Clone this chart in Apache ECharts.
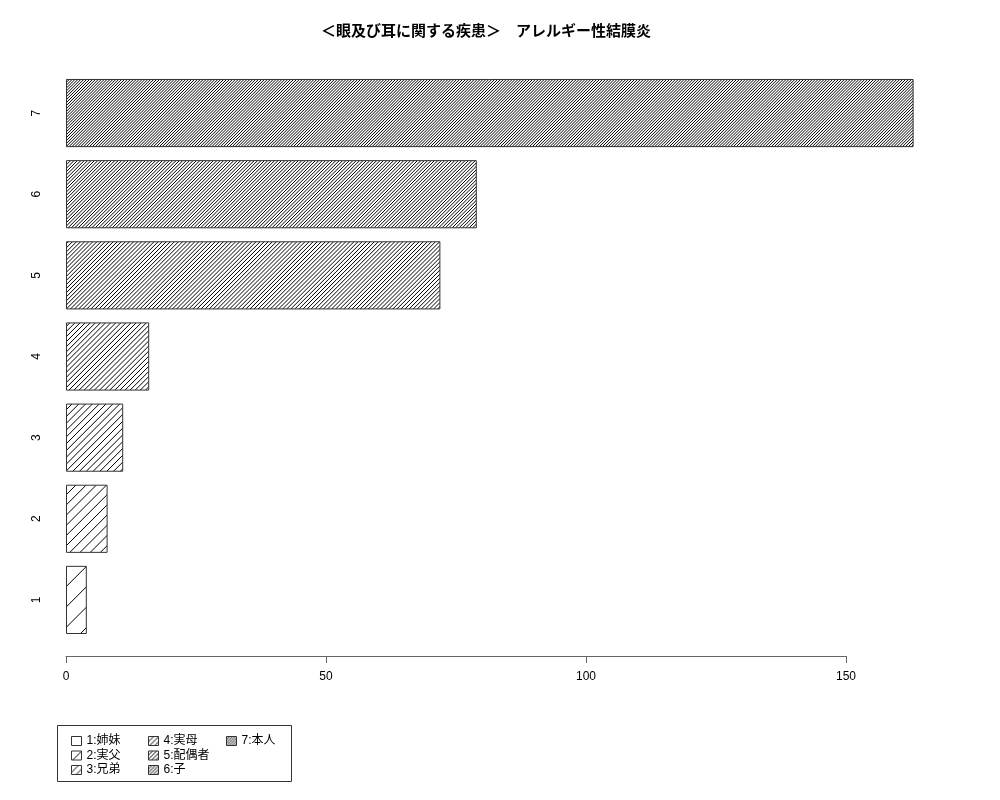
<!DOCTYPE html>
<html><head><meta charset="utf-8">
<script src="https://cdn.jsdelivr.net/npm/echarts@6/dist/echarts.min.js"></script>
<style>html,body{margin:0;padding:0;background:#fff}#c{width:1000px;height:800px}</style>
</head><body><div id="c"></div>
<script>
const categories = ['1','2','3','4','5','6','7'];
const legendNames = ['1:姉妹','2:実父','3:兄弟','4:実母','5:配偶者','6:子','7:本人'];
const values = [4, 8, 11, 16, 72, 79, 163];
const xTicks = [0, 50, 100, 150];
const titleText = '＜眼及び耳に関する疾患＞　アレルギー性結膜炎';

const FONT = "'Liberation Sans', 'Noto Sans CJK JP', sans-serif";

function hatch(k) {
  const T = 102;
  const cv = document.createElement('canvas');
  cv.width = T; cv.height = T;
  const g = cv.getContext('2d');
  g.fillStyle = '#fff'; g.fillRect(0, 0, T, T);
  g.strokeStyle = '#000'; g.lineWidth = 1;
  const p = T / k;
  g.beginPath();
  for (let j = -1; j <= 2 * k + 1; j++) {
    const c = j * p;
    g.moveTo(-5, c + 5);
    g.lineTo(T + 5, c - T - 5);
  }
  g.stroke();
  return { image: cv, repeat: 'repeat' };
}

const series = categories.map((cat, i) => ({
  name: legendNames[i],
  type: 'bar',
  stack: 'all',
  xAxisIndex: 0, yAxisIndex: 0,
  barCategoryGap: '16%',
  itemStyle: { color: hatch(5 * (i + 1)), borderColor: '#333', borderWidth: 1 },
  emphasis: { disabled: true },
  data: categories.map((c, j) => j === i ? values[i] : '-')
}));

function legendCol(names, left) {
  return {
    data: names, left: left, top: 735, orient: 'vertical',
    itemWidth: 10, itemHeight: 9, itemGap: 2.5, icon: 'rect',
    selectedMode: false,
    itemStyle: { borderColor: '#333', borderWidth: 1 },
    textStyle: { fontFamily: FONT, fontSize: 12, color: '#000', lineHeight: 12 },
    padding: 0
  };
}

const chart = echarts.init(document.getElementById('c'), null, { renderer: 'canvas' });
chart.setOption({
  animation: false,
  backgroundColor: '#fff',
  title: {
    text: titleText, left: 481, top: 19, textAlign: 'center',
    textStyle: { fontFamily: FONT, fontSize: 15, fontWeight: 'bold', color: '#000' }
  },
  legend: [
    legendCol(legendNames.slice(0, 3), 71),
    legendCol(legendNames.slice(3, 6), 148),
    legendCol(legendNames.slice(6, 7), 226)
  ],
  graphic: [{
    type: 'rect', shape: { x: 57.5, y: 725.5, width: 234, height: 56 },
    style: { fill: 'none', stroke: '#333', lineWidth: 1 }, silent: true
  }],
  grid: [
    { left: 66, top: 72.5, width: 884, height: 568 },
    { left: 66, top: 600, width: 780, height: 56 }
  ],
  xAxis: [
    { gridIndex: 0, type: 'value', min: 0, max: 170, show: false },
    {
      gridIndex: 1, type: 'value', min: xTicks[0], max: xTicks[xTicks.length - 1], interval: 50,
      position: 'bottom', splitLine: { show: false },
      axisLine: { show: true, lineStyle: { color: '#666', width: 1 } },
      axisTick: { show: true, length: 7, lineStyle: { color: '#666' } },
      axisLabel: { fontFamily: FONT, fontSize: 12, color: '#000', margin: 15 }
    }
  ],
  yAxis: [
    {
      gridIndex: 0, type: 'category', data: categories,
      axisLine: { show: false }, axisTick: { show: false }, splitLine: { show: false },
      axisLabel: { rotate: 90, fontFamily: FONT, fontSize: 12, color: '#000', margin: 23 }
    },
    { gridIndex: 1, type: 'value', show: false, min: 0, max: 1 }
  ],
  series: series
});
</script></body></html>
